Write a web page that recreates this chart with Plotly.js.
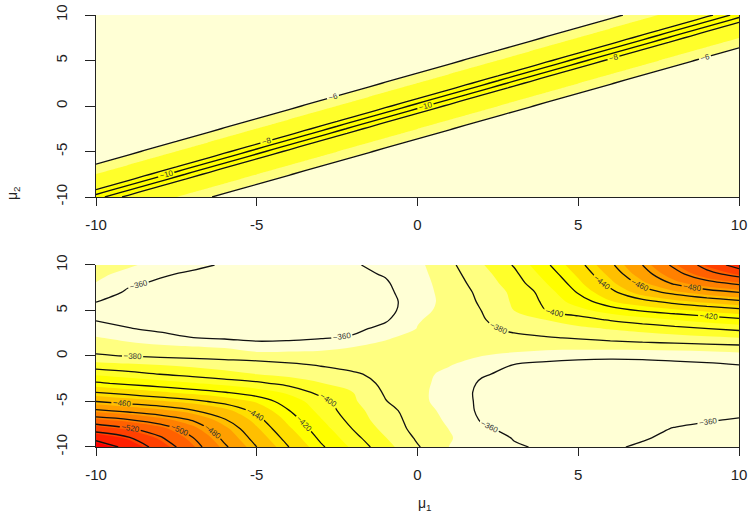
<!DOCTYPE html>
<html>
<head>
<meta charset="utf-8">
<script src="https://cdn.plot.ly/plotly-3.0.1.min.js"></script>
<style>html,body{margin:0;padding:0;background:#fff}#chart{width:748px;height:514px}</style>
</head>
<body>
<div id="chart"></div>
<script>
// ---------- axis grids ----------
const muCoarse = [-10,-9,-8,-7,-6,-5,-4,-3,-2,-1,0,1,2,3,4,5,6,7,8,9,10];
const muFine = [-10,-9.5,-9,-8.5,-8,-7.5,-7,-6.5,-6,-5.5,-5,-4.5,-4,-3.5,-3,-2.5,-2,-1.5,-1,-0.5,0,
                0.5,1,1.5,2,2.5,3,3.5,4,4.5,5,5.5,6,6.5,7,7.5,8,8.5,9,9.5,10];
const tickVals = [-10,-5,0,5,10];
const tickText = ['-10','-5','0','5','10'];

// ---------- top panel: value as a function of |mu2 - mu1| (0, 0.5, ..., 20) ----------
const topProfile = [-11.1,-9.1,-7.32,-7.3,-7.29,-7.27,-6.7,-6.1,-5.65,-5.35,-5.15,-5.0,-4.88,-4.79,-4.72,-4.66,
                    -4.61,-4.56,-4.52,-4.48,-4.45,-4.42,-4.39,-4.36,-4.34,-4.32,-4.3,-4.28,-4.26,-4.24,-4.22,
                    -4.21,-4.19,-4.18,-4.16,-4.15,-4.14,-4.13,-4.12,-4.11,-4.1];
const topFillLevels = {start:-8.45, end:-6.05, size:1.2};
const topLineLevels = {start:-10, end:-6, size:2};
const topColors = ['#FFFF00','#FFFF2A','#FFFF80','#FFFFD5'];

// ---------- bottom panel: rows are mu2 = -10 ... 10, columns mu1 = -10 ... 10 ----------
const r_m10 = [-573.8,-553.8,-532.5,-507.5,-482.5,-460,-440,-421.8,-407.1,-393.8,-380.9,-370.5,-364.5,-361,-358.8,-357.8,-358.8,-361.3,-364,-366,-368];
const r_m9  = [-553.8,-542,-522,-500.8,-476.2,-454.6,-435.1,-417.6,-403.3,-390.4,-378.5,-371.5,-364.5,-359.5,-357.2,-356.5,-357.2,-359.2,-362,-364.5,-366];
const r_m8  = [-532.5,-522,-510.3,-490.3,-470.2,-449.2,-430.2,-413.7,-399.5,-387,-376.5,-370.5,-361.5,-357.5,-355.8,-355.3,-355.8,-357.5,-360.5,-362.3,-363.5];
const r_m7  = [-507.5,-500.8,-490.3,-478.7,-460.9,-443.8,-425.3,-409.9,-396.1,-384.5,-376.2,-369,-359,-356,-354.5,-354,-354.3,-355.5,-357.5,-359.2,-360.6];
const r_m6  = [-482.5,-476.2,-470.2,-460.9,-451.4,-435.8,-420.3,-406,-394,-383,-375.5,-367.4,-357.8,-355,-353.6,-353,-353,-353.3,-354.2,-355.8,-357.6];
const r_m5  = [-460,-454.6,-449.2,-443.8,-435.8,-427.3,-414.3,-404,-391.5,-380.5,-373,-367,-357.5,-355,-353.5,-353,-352.8,-352.8,-353.2,-354,-355.6];
const r_m4  = [-440,-435,-430,-425,-420.5,-414.3,-407.6,-396.6,-390,-378.8,-373.2,-366.3,-357.5,-355,-353.8,-353.2,-353,-353,-353.4,-354,-355];
const r_m3  = [-421.8,-417.6,-413.7,-409.9,-406,-402.1,-396.6,-390.5,-383.5,-378.5,-373.5,-367,-358.5,-356,-354.8,-354,-353.6,-353.6,-354,-354.8,-355.3];
const r_m2  = [-407.5,-403.7,-399.9,-396.5,-393,-390,-387,-383.5,-381,-377.7,-373.4,-368.5,-361,-357.5,-355.8,-355,-354.6,-354.6,-355,-355.6,-356.5];
const r_m1  = [-394.2,-392,-390,-388,-386,-384,-381.6,-379.5,-377.5,-375.5,-373.5,-371.2,-365.5,-359.5,-357.5,-356.5,-356.2,-356.5,-357.5,-358.3,-359.8];
const r_0   = [-381.3,-379.7,-378.3,-377.2,-376.2,-375.5,-375,-374.7,-374.6,-374.5,-374,-372.8,-370.8,-368.3,-364,-362.5,-362,-362.3,-363.2,-364.8,-366.5];
const r_p1  = [-375.9,-374.5,-372.8,-371.2,-370,-365,-366.5,-368,-370.7,-372.5,-373.5,-374,-374.2,-374.4,-374.5,-374.6,-374.9,-375.3,-375.8,-376.5,-377.4];
const r_p2  = [-371.4,-368,-364,-360.1,-358.5,-357,-357.2,-359.2,-361.3,-370,-373,-375,-376.5,-378.2,-379.3,-380.7,-382.5,-384.3,-386.1,-388,-389.8];
const r_p3  = [-365.2,-360.6,-357.5,-356,-355.2,-355,-355,-355.8,-357.5,-362.9,-371.1,-374.7,-378.3,-381.6,-384.6,-387.6,-390.7,-393.7,-396.7,-399.7,-402.5];
const r_p4  = [-359.2,-356.5,-354.5,-353,-352.2,-351.8,-351.8,-352.3,-354,-358.5,-370,-374.6,-379.3,-384.7,-390.3,-396,-401.2,-405.4,-409.5,-413.6,-417.8];
const r_p5  = [-358,-355.5,-353.8,-352.6,-351.8,-351.5,-351.5,-351.8,-352.8,-356,-367.5,-374.5,-380.1,-390,-400,-405.9,-413.9,-421.1,-425.9,-430.7,-435.5];
const r_p6  = [-360.2,-357,-355,-353.8,-353,-352.6,-352.5,-352.8,-353.8,-356.2,-365.7,-374.5,-381.2,-391.4,-402.2,-413.9,-427.9,-436.2,-444.8,-451,-457.2];
const r_p7  = [-365.7,-358.5,-356.5,-355,-354.2,-353.8,-353.7,-354,-355,-357.5,-366.4,-374.7,-382.2,-392.3,-404.1,-421.1,-436.2,-453.6,-464.3,-473.9,-480];
const r_p8  = [-370.5,-361.7,-358.5,-356.5,-355.5,-355,-354.8,-355,-356,-358.8,-367.1,-375.3,-384.2,-395.1,-409,-425.9,-444.8,-464.3,-482.6,-493.7,-504];
const r_p9  = [-372.7,-368.5,-361.2,-358.5,-357,-356,-355.8,-356.2,-357.5,-360.8,-367.9,-376.3,-386.4,-397.6,-413.2,-430.7,-451,-473.9,-493.7,-514.1,-526.7];
const r_p10 = [-375,-372,-367.8,-362.2,-359,-357.5,-357,-357.5,-359,-362.9,-368.6,-377.7,-389.1,-400.8,-417.8,-435.5,-457.2,-480,-504,-526.7,-549];
const bottomFillLevels = {start:-563.25, end:-370.75, size:19.25};
const bottomLineLevels = {start:-560, end:-360, size:20};
const heatColors = ['#FF0000','#FF2000','#FF4000','#FF6000','#FF8000','#FF9F00',
                    '#FFBF00','#FFDF00','#FFFF00','#FFFF2A','#FFFF80','#FFFFD5'];

// ---------- build grids ----------
const zTop = muFine.map((_, i) => muFine.map((__, j) => topProfile[Math.abs(i - j)]));
const zBottom = [r_m10,r_m9,r_m8,r_m7,r_m6,r_m5,r_m4,r_m3,r_m2,r_m1,r_0,
                 r_p1,r_p2,r_p3,r_p4,r_p5,r_p6,r_p7,r_p8,r_p9,r_p10];

function stepScale(cols) {
  const n = cols.length - 1;
  return cols.map((c, k) => [k / n, c]);
}

const labelFont = {family: 'Liberation Sans, Arial, sans-serif', size: 8, color: '#333'};

const traces = [
  {type:'contour', x: muFine, y: muFine, z: zTop, xaxis:'x', yaxis:'y',
   autocontour:false, contours:Object.assign({coloring:'fill', showlines:false}, topFillLevels),
   colorscale: stepScale(topColors), showscale:false, line:{width:0, smoothing:0}, hoverinfo:'skip'},
  {type:'contour', x: muFine, y: muFine, z: zTop, xaxis:'x', yaxis:'y',
   autocontour:false, contours:Object.assign({coloring:'none', showlabels:true, labelfont:labelFont}, topLineLevels),
   line:{color:'#111', width:1.3, smoothing:0}, showscale:false, hoverinfo:'skip'},
  {type:'contour', x: muCoarse, y: muCoarse, z: zBottom, xaxis:'x2', yaxis:'y2',
   autocontour:false, contours:Object.assign({coloring:'fill', showlines:false}, bottomFillLevels),
   colorscale: stepScale(heatColors), showscale:false, line:{width:0, smoothing:1}, hoverinfo:'skip'},
  {type:'contour', x: muCoarse, y: muCoarse, z: zBottom, xaxis:'x2', yaxis:'y2',
   autocontour:false, contours:Object.assign({coloring:'none', showlabels:true, labelfont:labelFont}, bottomLineLevels),
   line:{color:'#111', width:1.3, smoothing:1}, showscale:false, hoverinfo:'skip'}
];

const tickFont = {family:'Liberation Sans, Arial, sans-serif', size:15, color:'#222'};
function xAx(anchor) {
  return {anchor: anchor, domain:[0,1], range:[-10,10], tickmode:'array', tickvals:tickVals, ticktext:tickText,
          ticks:'outside', ticklen:8, tickwidth:1, tickcolor:'#222', showline:true, linecolor:'#222', linewidth:1,
          showgrid:false, zeroline:false, tickfont:tickFont, ticklabelstandoff:6};
}
function yAx(anchor, dom) {
  return {anchor: anchor, domain: dom, range:[-10,10], tickmode:'array', tickvals:tickVals, ticktext:tickText,
          ticks:'outside', ticklen:10, tickwidth:1, tickcolor:'#222', showline:true, mirror:true, linecolor:'#222', linewidth:1,
          showgrid:false, zeroline:false, tickfont:tickFont, tickangle:-90, ticklabelstandoff:12};
}

const layout = {
  width:748, height:514,
  margin:{l:96, r:9, t:15, b:67},
  paper_bgcolor:'#fff', plot_bgcolor:'#fff',
  showlegend:false,
  xaxis: xAx('y'),
  yaxis: yAx('x', [0.5787, 1]),
  xaxis2: xAx('y2'),
  yaxis2: yAx('x2', [0, 0.4213]),
  annotations:[
    {text:'μ<sub>1</sub>', xref:'paper', yref:'paper', x:0.5117, y:-0.132, showarrow:false,
     xanchor:'center', yanchor:'middle', font:{family:'Liberation Sans, Arial, sans-serif', size:14, color:'#222'}},
    {text:'μ<sub>2</sub>', xref:'paper', yref:'paper', x:-0.129, y:0.588, showarrow:false, textangle:-90,
     xanchor:'center', yanchor:'middle', font:{family:'Liberation Sans, Arial, sans-serif', size:14, color:'#222'}}
  ]
};

Plotly.newPlot('chart', traces, layout, {displayModeBar:false, staticPlot:true});
</script>
</body>
</html>
